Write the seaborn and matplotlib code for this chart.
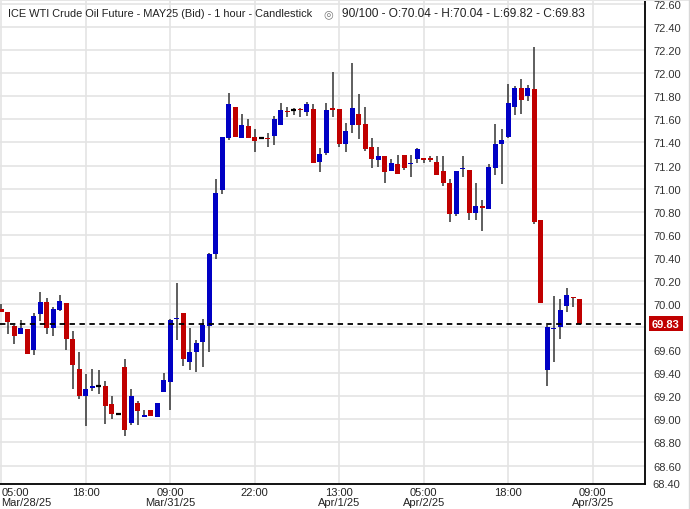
import numpy as np
import pandas as pd
import seaborn as sns
import matplotlib.pyplot as plt
from matplotlib.transforms import blended_transform_factory

# 1 hour bars
opens = [69.96, 69.93, 69.81, 69.74, 69.78, 69.60, 69.91, 70.02, 69.79, 69.95,
         70.01, 69.70, 69.44, 69.20, 69.27, 69.29, 69.29, 69.13, 69.05, 69.45,
         68.97, 69.14, 69.02, 69.08, 69.02, 69.24, 69.32, 69.87, 69.92, 69.50,
         69.58, 69.67, 69.81, 70.43, 70.99, 71.44, 71.71, 71.44, 71.54, 71.45,
         71.44, 71.44, 71.46, 71.55, 71.67, 71.68, 71.69, 71.66, 71.69, 71.23,
         71.31, 71.70, 71.69, 71.39, 71.55, 71.65, 71.56, 71.36, 71.25, 71.28,
         71.15, 71.21, 71.29, 71.21, 71.26, 71.26, 71.26, 71.23, 71.15, 71.05,
         70.78, 71.17, 71.16, 70.79, 70.85, 70.82, 71.18, 71.39, 71.45, 71.71,
         71.87, 71.80, 71.86, 70.73, 69.43, 69.78, 69.80, 69.98, 70.06, 70.04]
highs = [70.00, 69.93, 69.82, 69.86, 69.78, 69.92, 70.10, 70.05, 69.97, 70.08,
         70.01, 69.77, 69.58, 69.39, 69.44, 69.43, 69.33, 69.20, 69.05, 69.52,
         69.26, 69.16, 69.08, 69.08, 69.14, 69.40, 69.87, 70.18, 69.92, 69.79,
         69.69, 69.87, 70.44, 71.08, 71.45, 71.83, 71.71, 71.65, 71.60, 71.52,
         71.44, 71.48, 71.63, 71.74, 71.71, 71.70, 71.70, 71.75, 71.73, 71.35,
         71.74, 72.01, 71.69, 71.57, 72.09, 71.82, 71.71, 71.44, 71.36, 71.28,
         71.26, 71.29, 71.29, 71.29, 71.35, 71.26, 71.28, 71.28, 71.28, 71.08,
         71.15, 71.28, 71.16, 71.05, 70.90, 71.21, 71.56, 71.52, 71.91, 71.89,
         71.95, 71.90, 72.23, 70.73, 69.82, 70.07, 70.04, 70.14, 70.06, 70.04]
lows = [69.93, 69.74, 69.65, 69.74, 69.57, 69.56, 69.85, 69.74, 69.72, 69.94,
        69.60, 69.26, 69.18, 68.94, 69.25, 69.22, 68.96, 69.00, 69.05, 68.86,
        68.95, 68.95, 69.02, 69.03, 69.02, 69.24, 69.08, 69.69, 69.46, 69.43,
        69.41, 69.45, 69.58, 70.39, 70.95, 71.42, 71.45, 71.44, 71.44, 71.32,
        71.44, 71.36, 71.38, 71.55, 71.62, 71.64, 71.62, 71.63, 71.22, 71.14,
        71.29, 71.62, 71.36, 71.32, 71.48, 71.43, 71.33, 71.18, 71.19, 71.05,
        71.15, 71.13, 71.16, 71.10, 71.22, 71.22, 71.23, 71.12, 71.02, 70.71,
        70.76, 71.10, 70.73, 70.73, 70.63, 70.82, 71.12, 71.04, 71.44, 71.64,
        71.65, 71.76, 70.69, 70.01, 69.29, 69.50, 69.70, 69.93, 69.97, 69.82]
closes = [69.93, 69.84, 69.72, 69.79, 69.57, 69.90, 70.02, 69.79, 69.96, 70.03,
          69.70, 69.47, 69.20, 69.26, 69.29, 69.29, 69.12, 69.05, 69.05, 68.91,
          69.20, 69.07, 69.04, 69.03, 69.14, 69.34, 69.86, 69.88, 69.52, 69.58,
          69.66, 69.82, 70.43, 70.96, 71.45, 71.73, 71.45, 71.55, 71.44, 71.41,
          71.44, 71.43, 71.60, 71.68, 71.66, 71.68, 71.68, 71.73, 71.22, 71.30,
          71.68, 71.68, 71.39, 71.50, 71.70, 71.55, 71.34, 71.26, 71.28, 71.14,
          71.22, 71.13, 71.18, 71.22, 71.34, 71.25, 71.25, 71.12, 71.05, 70.78,
          71.15, 71.18, 70.79, 70.85, 70.83, 71.19, 71.39, 71.42, 71.74, 71.87,
          71.77, 71.87, 70.71, 70.01, 69.80, 69.79, 69.95, 70.08, 70.05, 69.83]

tick_pos = [0, 13, 26, 39, 52, 65, 78, 91]
tick_labels = ["05:00\nMar/28/25", "18:00", "09:00\nMar/31/25", "22:00",
               "13:00\nApr/1/25", "05:00\nApr/2/25", "18:00", "09:00\nApr/3/25"]
price_ticks = [72.60, 72.40, 72.20, 72.00, 71.80, 71.60, 71.40, 71.20, 71.00, 70.80,
               70.60, 70.40, 70.20, 70.00, 69.80, 69.60, 69.40, 69.20, 69.00, 68.80, 68.60]
last_price = 69.83
title = "ICE WTI Crude Oil Future - MAY25 (Bid) - 1 hour - Candlestick"
info = "90/100 - O:70.04 - H:70.04 - L:69.82 - C:69.83"

df = pd.DataFrame({"open": opens, "high": highs, "low": lows, "close": closes})
df["x"] = np.arange(len(df))
df["up"] = df["close"] > df["open"]
df["doji"] = df["close"] == df["open"]

sns.set_theme(style="white")
plt.rcParams["font.family"] = ["Liberation Sans", "DejaVu Sans"]

BLUE = "#0000c4"
RED = "#c00000"

fig = plt.figure(figsize=(6.9, 5.1), dpi=100)
ax = fig.add_axes([0, 25 / 510, 645 / 690, 485 / 510])

# wicks
ax.vlines(df["x"], df["low"], df["high"], color="#333333", lw=1.1, zorder=2)

# bodies
body = df[~df["doji"]]
bottom = body[["open", "close"]].min(axis=1)
height = (body["close"] - body["open"]).abs().clip(lower=0.012)
colors = np.where(body["up"], BLUE, RED)
ax.bar(body["x"], height, bottom=bottom, width=0.72, color=colors, lw=0, zorder=3)

dj = df[df["doji"]]
ax.hlines(dj["close"], dj["x"] - 0.4, dj["x"] + 0.4, color="black", lw=1.6, zorder=3)

# last price line
ax.axhline(last_price, color="black", lw=1.3, ls=(0, (3, 2.5)), zorder=4)

ax.set_xlim(-0.2, 99.03)
ax.set_ylim(68.44, 72.643)

ax.set_xticks(tick_pos)
ax.set_xticklabels(tick_labels, fontsize=8, color="#222222", linespacing=1.0,
                   family=["Liberation Sans Narrow", "Liberation Sans"])
ax.get_xticklabels()[0].set_horizontalalignment("left")

ax.yaxis.tick_right()
ax.set_yticks(price_ticks)
ax.set_yticklabels(["" if abs(p - 69.80) < 1e-6 else f"{p:.2f}" for p in price_ticks],
                   fontsize=8, color="#333333")
ax.tick_params(axis="both", length=0)
ax.tick_params(axis="y", pad=6)
ax.tick_params(axis="x", pad=2)

ax.grid(True, color="#e4e4e4", lw=1.2)
ax.set_axisbelow(True)
for s in ["left", "top"]:
    ax.spines[s].set_visible(False)
for s in ["right", "bottom"]:
    ax.spines[s].set_color("black")
    ax.spines[s].set_linewidth(1.3)

# label under the last row, pushed up to stay inside
ax.text(1 + 7 / 645, -0.5 / 485, "68.40", transform=ax.transAxes, ha="left", va="center",
        fontsize=8, color="#333333")

trans = blended_transform_factory(ax.transAxes, ax.transData)
ax.text(1 + 7 / 645, last_price, "69.83", transform=trans, ha="left", va="center",
        fontsize=8, color="white", fontweight="bold",
        bbox=dict(boxstyle="square,pad=0.25", fc=RED, ec="none"), zorder=5)

fig.text(8 / 690, 1 - 14 / 510, title, fontsize=7.9, color="#222222", va="center")
fig.text(328 / 690, 1 - 14 / 510, "\u25ce", fontsize=8, color="#777777", va="center",
         ha="center", family=["DejaVu Sans"])
fig.text(342 / 690, 1 - 14 / 510, info, fontsize=8.6, color="#222222", va="center")

# frame bits of the widget
fig.add_artist(plt.Rectangle((0, 1 - 2 / 510), 1, 2 / 510, transform=fig.transFigure,
                             color="#e6e6e6", lw=0))
fig.add_artist(plt.Line2D([1 - 1.5 / 690] * 2, [0, 1], transform=fig.transFigure,
                          color="#d8d8d8", lw=1))

fig.savefig("out.png", dpi=100)
